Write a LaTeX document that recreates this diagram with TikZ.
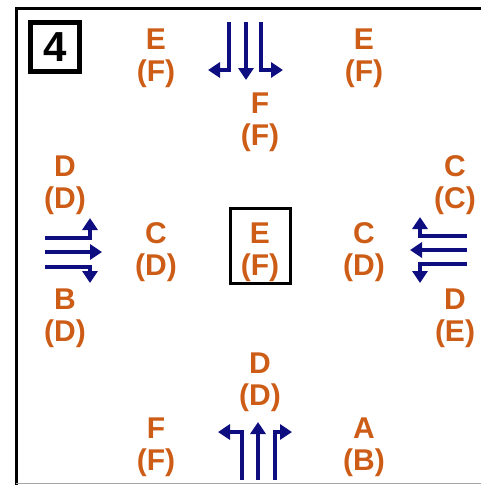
\documentclass[tikz,border=0pt]{standalone}
\usepackage{fontspec}
\setmainfont{Liberation Sans}
\usetikzlibrary{arrows.meta}
\definecolor{lblorange}{RGB}{204,92,22}
\definecolor{navyarrow}{RGB}{14,14,128}
\tikzset{
  lbl/.style={text=lblorange, font=\fontsize{30}{32.5}\selectfont\bfseries, align=center, anchor=base, inner sep=0},
  lane/.style={draw=navyarrow, line width=4pt, -{Triangle[width=15pt,length=12pt]}},
}
\begin{document}
\begin{tikzpicture}[x=1pt,y=-1pt]
\useasboundingbox (0,0) rectangle (481,485);
% frame
\draw[line width=3pt] (16.5,485) -- (16.5,8.5) -- (481,8.5);
\draw[black!35, line width=1.5pt] (16,483.5) -- (481,483.5);
% number box
\node[draw, line width=5pt, minimum width=49pt, minimum height=49pt, inner sep=0, font=\fontsize{42}{42}\selectfont\bfseries] (num) at (55,47) {4};
% center box
\node[draw, line width=3pt, minimum width=60pt, minimum height=75pt, inner sep=0] (cbox) at (260,246) {};
% labels (anchor = baseline of the second line)
\node[lbl] (tl) at (156,81.5) {E\\(F)};
\node[lbl] (tr) at (364,81.5) {E\\(F)};
\node[lbl] (tm) at (260,145.5) {F\\(F)};
\node[lbl] (lu) at (65,208.5) {D\\(D)};
\node[lbl] (ld) at (65,341.5) {B\\(D)};
\node[lbl] (lc) at (156,275.5) {C\\(D)};
\node[lbl] (cc) at (260,275.5) {E\\(F)};
\node[lbl] (rc) at (364,275.5) {C\\(D)};
\node[lbl] (ru) at (455,208.5) {C\\(C)};
\node[lbl] (rd) at (455,341.5) {D\\(E)};
\node[lbl] (bm) at (260,405.5) {D\\(D)};
\node[lbl] (bl) at (156,470.5) {F\\(F)};
\node[lbl] (br) at (364,470.5) {A\\(B)};
% top approach (southbound)
\coordinate (t1) at (229,22); \coordinate (t2) at (246,22); \coordinate (t3) at (261,22);
\draw[lane] (t1) -- (229,70) -- (208,70);
\draw[lane] (t2) -- (246,80);
\draw[lane] (t3) -- (261,70) -- (283,70);
% left approach (eastbound)
\coordinate (l1) at (45,238); \coordinate (l2) at (45,252); \coordinate (l3) at (45,267);
\draw[lane] (l1) -- (90,238) -- (90,218);
\draw[lane] (l2) -- (102,252);
\draw[lane] (l3) -- (90,267) -- (90,283);
% right approach (westbound)
\coordinate (r1) at (467,236); \coordinate (r2) at (467,250); \coordinate (r3) at (467,264);
\draw[lane] (r1) -- (420,236) -- (420,217);
\draw[lane] (r2) -- (410,250);
\draw[lane] (r3) -- (420,264) -- (420,283);
% bottom approach (northbound)
\coordinate (b1) at (242,480); \coordinate (b2) at (258,480); \coordinate (b3) at (275,480);
\draw[lane] (b1) -- (242,432) -- (218,432);
\draw[lane] (b2) -- (258,422);
\draw[lane] (b3) -- (275,432) -- (292,432);
\end{tikzpicture}
\end{document}
